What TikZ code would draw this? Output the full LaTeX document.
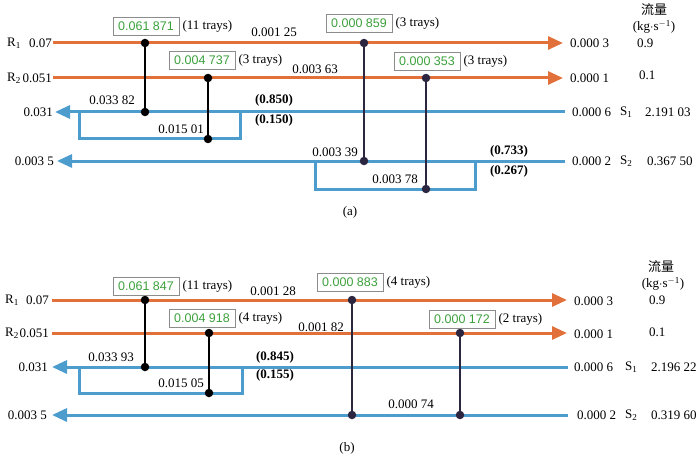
\documentclass[tikz,border=0pt]{standalone}
\usepackage{fontspec}
\setmainfont{Liberation Serif}
\newfontfamily\cjk{Noto Sans CJK SC}
\newfontfamily\grnfont{Liberation Sans}
\usetikzlibrary{arrows.meta,positioning}
\definecolor{orng}{RGB}{226,112,58}
\definecolor{blu}{RGB}{76,156,206}
\definecolor{grn}{RGB}{60,160,60}
\definecolor{dkpur}{RGB}{45,38,64}
\tikzset{
  rline/.style={draw=orng,line width=3pt},
  sline/.style={draw=blu,line width=3pt},
  tipr/.style={-{Triangle[length=15pt,width=13pt]}},
  tipl/.style={{Triangle[length=15pt,width=13pt]}-},
  link/.style={line width=1.2pt},
  dot/.style={circle,fill=black,inner sep=0pt,minimum size=8.5pt},
  pdot/.style={dot,fill=dkpur},
  gbox/.style={draw=black!45,line width=0.8pt,text=grn,font=\grnfont\fontsize{12.5}{14}\selectfont,minimum width=66pt,minimum height=18pt,inner sep=1pt},
  lbl/.style={inner sep=0pt,font=\fontsize{13}{15}\selectfont},
  blbl/.style={inner sep=0pt,font=\fontsize{13}{15}\selectfont\bfseries}
}
\begin{document}
\begin{tikzpicture}[x=1pt,y=-1pt]
  \useasboundingbox (0,0) rectangle (700,457);
  % ---------- (a) ----------
  \coordinate (ar1w) at (53,43);  \coordinate (ar1e) at (563,43);
  \coordinate (ar2w) at (53,78);  \coordinate (ar2e) at (563,78);
  \coordinate (as1w) at (55,112); \coordinate (as1e) at (565,112);
  \coordinate (as2w) at (57,161); \coordinate (as2e) at (565,161);
  \draw[rline,tipr] (ar1w) -- (ar1e);
  \draw[rline,tipr] (ar2w) -- (ar2e);
  \draw[sline,tipl] (as1w) -- (as1e);
  \draw[sline,tipl] (as2w) -- (as2e);
  \coordinate (ab1a) at (79,112);  \coordinate (ab1b) at (240,139); \coordinate (ab1c) at (240,112);
  \coordinate (ab2a) at (315,161); \coordinate (ab2b) at (475,189); \coordinate (ab2c) at (475,161);
  \draw[sline] (ab1a) |- (ab1b) -- (ab1c);
  \draw[sline] (ab2a) |- (ab2b) -- (ab2c);
  \node[dot] (ad1t) at (145,43) {};  \node[dot] (ad1b) at (145,112) {};
  \node[dot] (ad2t) at (208,78) {};  \node[dot] (ad2b) at (208,139) {};
  \node[pdot] (ad3t) at (364,43) {}; \node[pdot] (ad3b) at (364,161) {};
  \node[pdot] (ad4t) at (426,78) {}; \node[pdot] (ad4b) at (426,189) {};
  \draw[link] (ad1t) -- (ad1b);
  \draw[link] (ad2t) -- (ad2b);
  \draw[link,dkpur] (ad3t) -- (ad3b);
  \draw[link,dkpur] (ad4t) -- (ad4b);
  \node[gbox] (abx1) at (146,26) {0.061 871};
  \node[lbl,right=3pt of abx1] {(11 trays)};
  \node[gbox] (abx2) at (202,60) {0.004 737};
  \node[lbl,right=3pt of abx2] {(3 trays)};
  \node[gbox] (abx3) at (359,23) {0.000 859};
  \node[lbl,right=3pt of abx3] {(3 trays)};
  \node[gbox] (abx4) at (427,61) {0.000 353};
  \node[lbl,right=3pt of abx4] {(3 trays)};
  \node[lbl] (al1) at (274,32) {0.001 25};
  \node[lbl] (al2) at (315,69) {0.003 63};
  \node[lbl] (al3) at (112,100) {0.033 82};
  \node[lbl] (al4) at (181,129) {0.015 01};
  \node[blbl] (al5) at (274,100) {(0.850)};
  \node[blbl] (al6) at (274,120) {(0.150)};
  \node[lbl] (al7) at (335,152) {0.003 39};
  \node[lbl] (al8) at (395,179) {0.003 78};
  \node[blbl] (al9) at (509,151) {(0.733)};
  \node[blbl] (al10) at (509,171) {(0.267)};
  % left and right ends
  \node[lbl,anchor=west] (aR1) at (7,43) {R\textsubscript{1}};
  \node[lbl,anchor=east] (aR1v) at (52,43) {0.07};
  \node[lbl,anchor=west] (aR2) at (7,78) {R\textsubscript{2}};
  \node[lbl,anchor=east] (aR2v) at (52,78) {0.051};
  \node[lbl,anchor=east] (aS1v) at (53,112) {0.031};
  \node[lbl,anchor=east] (aS2v) at (54,161) {0.003 5};
  \node[lbl,anchor=west] (aR1o) at (570,43) {0.000 3};
  \node[lbl,anchor=west] (aR2o) at (570,78) {0.000 1};
  \node[lbl,anchor=west] (aS1o) at (572,112) {0.000 6};
  \node[lbl,anchor=west] (aS1) at (620,112) {S\textsubscript{1}};
  \node[lbl,anchor=west] (aS2o) at (572,161) {0.000 2};
  \node[lbl,anchor=west] (aS2) at (620,161) {S\textsubscript{2}};
  \node[lbl] (ahd1) at (654,10) {\cjk 流量};
  \node[lbl] (ahd2) at (654,27) {(kg$\cdot$s\textsuperscript{$-$1})};
  \node[lbl,anchor=west] (af1) at (637,43) {0.9};
  \node[lbl,anchor=west] (af2) at (639,75) {0.1};
  \node[lbl,anchor=west] (af3) at (645,112) {2.191 03};
  \node[lbl,anchor=west] (af4) at (647,161) {0.367 50};
  \node[lbl] (acap) at (350,212) {(a)};
  % ---------- (b) ----------
  \coordinate (br1w) at (52,300); \coordinate (br1e) at (567,300);
  \coordinate (br2w) at (52,333); \coordinate (br2e) at (567,333);
  \coordinate (bs1w) at (52,367); \coordinate (bs1e) at (568,367);
  \coordinate (bs2w) at (52,415); \coordinate (bs2e) at (568,415);
  \draw[rline,tipr] (br1w) -- (br1e);
  \draw[rline,tipr] (br2w) -- (br2e);
  \draw[sline,tipl] (bs1w) -- (bs1e);
  \draw[sline,tipl] (bs2w) -- (bs2e);
  \coordinate (bb1a) at (79,367); \coordinate (bb1b) at (242,393); \coordinate (bb1c) at (242,367);
  \draw[sline] (bb1a) |- (bb1b) -- (bb1c);
  \node[dot] (bd1t) at (145,300) {};  \node[dot] (bd1b) at (145,367) {};
  \node[dot] (bd2t) at (209,333) {};  \node[dot] (bd2b) at (209,393) {};
  \node[pdot] (bd3t) at (352,300) {}; \node[pdot] (bd3b) at (352,415) {};
  \node[pdot] (bd4t) at (460,333) {}; \node[pdot] (bd4b) at (460,415) {};
  \draw[link] (bd1t) -- (bd1b);
  \draw[link] (bd2t) -- (bd2b);
  \draw[link,dkpur] (bd3t) -- (bd3b);
  \draw[link,dkpur] (bd4t) -- (bd4b);
  \node[gbox] (bbx1) at (146,286) {0.061 847};
  \node[lbl,right=3pt of bbx1] {(11 trays)};
  \node[gbox] (bbx2) at (202,318) {0.004 918};
  \node[lbl,right=3pt of bbx2] {(4 trays)};
  \node[gbox] (bbx3) at (350,282) {0.000 883};
  \node[lbl,right=3pt of bbx3] {(4 trays)};
  \node[gbox] (bbx4) at (462,319) {0.000 172};
  \node[lbl,right=3pt of bbx4] {(2 trays)};
  \node[lbl] (bl1) at (273,291) {0.001 28};
  \node[lbl] (bl2) at (321,327) {0.001 82};
  \node[lbl] (bl3) at (111,357) {0.033 93};
  \node[lbl] (bl4) at (181,383) {0.015 05};
  \node[blbl] (bl5) at (275,357) {(0.845)};
  \node[blbl] (bl6) at (275,375) {(0.155)};
  \node[lbl] (bl7) at (411,404) {0.000 74};
  % left and right ends
  \node[lbl,anchor=west] (bR1) at (5,300) {R\textsubscript{1}};
  \node[lbl,anchor=east] (bR1v) at (49,300) {0.07};
  \node[lbl,anchor=west] (bR2) at (5,333) {R\textsubscript{2}};
  \node[lbl,anchor=east] (bR2v) at (49,333) {0.051};
  \node[lbl,anchor=east] (bS1v) at (48,367) {0.031};
  \node[lbl,anchor=east] (bS2v) at (47,415) {0.003 5};
  \node[lbl,anchor=west] (bR1o) at (574,301) {0.000 3};
  \node[lbl,anchor=west] (bR2o) at (574,334) {0.000 1};
  \node[lbl,anchor=west] (bS1o) at (574,367) {0.000 6};
  \node[lbl,anchor=west] (bS1) at (625,367) {S\textsubscript{1}};
  \node[lbl,anchor=west] (bS2o) at (577,415) {0.000 2};
  \node[lbl,anchor=west] (bS2) at (625,415) {S\textsubscript{2}};
  \node[lbl] (bhd1) at (661,267) {\cjk 流量};
  \node[lbl] (bhd2) at (663,284) {(kg$\cdot$s\textsuperscript{$-$1})};
  \node[lbl,anchor=west] (bf1) at (649,300) {0.9};
  \node[lbl,anchor=west] (bf2) at (649,332) {0.1};
  \node[lbl,anchor=west] (bf3) at (651,367) {2.196 22};
  \node[lbl,anchor=west] (bf4) at (651,415) {0.319 60};
  \node[lbl] (bcap) at (347,448) {(b)};
\end{tikzpicture}
\end{document}
